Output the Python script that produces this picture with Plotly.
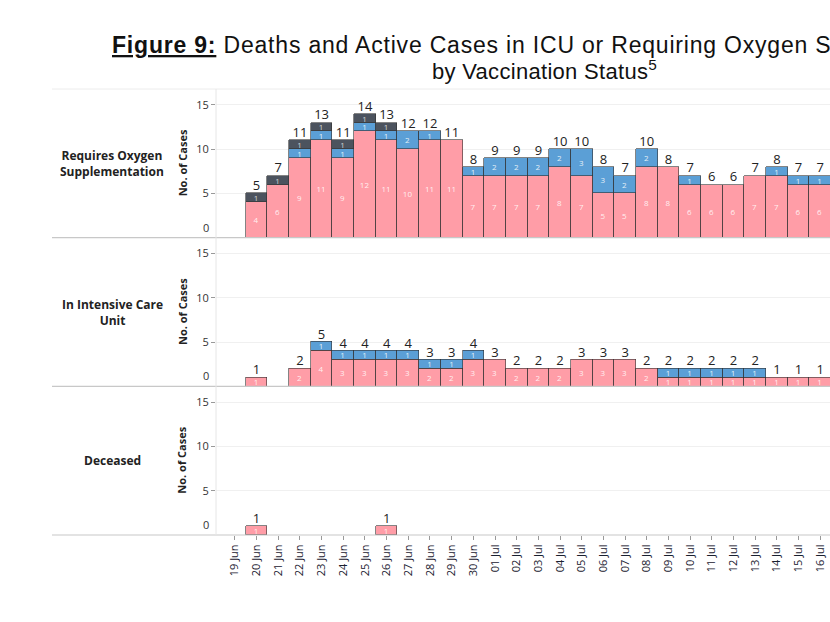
import plotly.graph_objects as go
from plotly.subplots import make_subplots

dates = ["19 Jun", "20 Jun", "21 Jun", "22 Jun", "23 Jun", "24 Jun", "25 Jun",
         "26 Jun", "27 Jun", "28 Jun", "29 Jun", "30 Jun", "01 Jul", "02 Jul",
         "03 Jul", "04 Jul", "05 Jul", "06 Jul", "07 Jul", "08 Jul", "09 Jul",
         "10 Jul", "11 Jul", "12 Jul", "13 Jul", "14 Jul", "15 Jul", "16 Jul"]

# Requires Oxygen Supplementation
oxy_pink = [0, 4, 6, 9, 11, 9, 12, 11, 10, 11, 11, 7, 7, 7, 7, 8, 7, 5, 5, 8, 8, 6, 6, 6, 7, 7, 6, 6]
oxy_blue = [0, 0, 0, 1, 1, 1, 1, 1, 2, 1, 0, 1, 2, 2, 2, 2, 3, 3, 2, 2, 0, 1, 0, 0, 0, 1, 1, 1]
oxy_dark = [0, 1, 1, 1, 1, 1, 1, 1, 0, 0, 0, 0, 0, 0, 0, 0, 0, 0, 0, 0, 0, 0, 0, 0, 0, 0, 0, 0]

# In Intensive Care Unit
icu_pink = [0, 1, 0, 2, 4, 3, 3, 3, 3, 2, 2, 3, 3, 2, 2, 2, 3, 3, 3, 2, 1, 1, 1, 1, 1, 1, 1, 1]
icu_blue = [0, 0, 0, 0, 1, 1, 1, 1, 1, 1, 1, 1, 0, 0, 0, 0, 0, 0, 0, 0, 1, 1, 1, 1, 1, 0, 0, 0]
icu_dark = [0] * 28

# Deceased
dec_pink = [0, 1, 0, 0, 0, 0, 0, 1, 0, 0, 0, 0, 0, 0, 0, 0, 0, 0, 0, 0, 0, 0, 0, 0, 0, 0, 0, 0]
dec_blue = [0] * 28
dec_dark = [0] * 28

row_labels = ["Requires Oxygen<br>Supplementation", "In Intensive Care<br>Unit", "Deceased"]
series_names = ["Unvaccinated", "Fully Vaccinated", "Partially Vaccinated"]
y_ticks = [5, 10, 15]

PINK = "#FF9DA7"
BLUE = "#5B9FD6"
DARK = "#4C535E"
BORDER = "rgba(50,50,50,0.75)"
FONT = "Open Sans"

panels = [
    (oxy_pink, oxy_blue, oxy_dark),
    (icu_pink, icu_blue, icu_dark),
    (dec_pink, dec_blue, dec_dark),
]

fig = make_subplots(rows=3, cols=1, shared_xaxes=True, vertical_spacing=0)

for r, (pk, bl, dk) in enumerate(panels, start=1):
    for vals, col, name, tcol in [
        (pk, PINK, series_names[0], "rgba(255,255,255,0.85)"),
        (bl, BLUE, series_names[1], "rgba(255,255,255,0.85)"),
        (dk, DARK, series_names[2], "rgba(225,225,225,0.9)"),
    ]:
        if sum(vals) == 0:
            continue
        fig.add_trace(go.Bar(
            x=dates,
            y=[v if v > 0 else None for v in vals],
            name=name,
            marker=dict(color=col, line=dict(color=BORDER, width=0.8)),
            text=[str(v) if v > 0 else "" for v in vals],
            textposition="inside",
            insidetextanchor="middle",
            textangle=0,
            constraintext="none",
            textfont=dict(size=8, color=tcol, family=FONT),
            showlegend=False,
            hoverinfo="skip",
        ), row=r, col=1)
    totals = [a + b + c for a, b, c in zip(pk, bl, dk)]
    fig.add_trace(go.Scatter(
        x=[d for d, t in zip(dates, totals) if t > 0],
        y=[t for t in totals if t > 0],
        text=[str(t) for t in totals if t > 0],
        mode="text",
        textposition="top center",
        textfont=dict(size=13, color="#222222", family=FONT),
        showlegend=False,
        hoverinfo="skip",
        cliponaxis=False,
    ), row=r, col=1)

fig.update_layout(
    width=830, height=622,
    margin=dict(l=216, r=0, t=89, b=87),
    barmode="stack", bargap=0,
    plot_bgcolor="white", paper_bgcolor="white",
    font=dict(family=FONT, color="#333333"),
)

for r in range(1, 4):
    fig.update_yaxes(
        range=[0, 16.8], tickvals=y_ticks, ticks="outside", ticklen=4,
        tickcolor="#999999", tickfont=dict(size=11, color="#333333", family=FONT),
        showgrid=True, gridcolor="#f0f0f0", zeroline=False, showline=False,
        row=r, col=1)
    fig.update_xaxes(
        type="category", range=[-0.87, 27.45], showgrid=False, zeroline=False,
        showline=False, row=r, col=1)

fig.update_xaxes(showticklabels=False, ticks="", row=1, col=1)
fig.update_xaxes(showticklabels=False, ticks="", row=2, col=1)
fig.update_xaxes(tickangle=-90, ticks="outside", ticklen=4, tickcolor="#999999",
                 tickfont=dict(size=11, color="#1a2030", family=FONT), row=3, col=1)

shapes = []
left = (52 - 216) / 614
shapes.append(dict(type="line", xref="paper", yref="paper", x0=left, x1=1.0, y0=1, y1=1,
                   line=dict(color="#ececec", width=1)))
for yy in [2 / 3, 1 / 3, 0]:
    shapes.append(dict(type="line", xref="paper", yref="paper", x0=left, x1=1.0, y0=yy, y1=yy,
                       line=dict(color="#c8c8c8", width=1.2)))
shapes.append(dict(type="line", xref="paper", yref="paper", x0=0, x1=0, y0=0, y1=1,
                   line=dict(color="#e6e6e6", width=1)))
fig.update_layout(shapes=shapes)

annotations = []
yrefs = ["y domain", "y2 domain", "y3 domain"]
yaxes = ["y", "y2", "y3"]
for i in range(3):
    annotations.append(dict(
        text="<b>" + row_labels[i] + "</b>", xref="paper", yref=yrefs[i],
        x=(112 - 216) / 614, y=0.5, xanchor="center", yanchor="middle",
        showarrow=False, font=dict(size=12, color="#222222", family=FONT)))
    annotations.append(dict(
        text="<b>No. of Cases</b>", xref="paper", yref=yrefs[i],
        x=(182 - 216) / 614, y=0.5, xanchor="center", yanchor="middle",
        textangle=-90, showarrow=False, font=dict(size=11, color="#222222", family=FONT)))
    annotations.append(dict(
        text="0", xref="paper", yref=yaxes[i], x=0, y=0, xanchor="right", yanchor="bottom",
        xshift=-5, yshift=1, showarrow=False,
        font=dict(size=11, color="#333333", family=FONT)))


def px_x(p):
    return (p - 216) / 614


def px_y(p):
    return (535 - p) / 446


annotations.append(dict(
    text='<span style="letter-spacing:0.8px"><b><span style="text-decoration:underline">Figure 9:</span></b> Deaths and Active Cases in ICU or Requiring Oxygen Supplementation</span>',
    xref="paper", yref="paper", x=px_x(110), y=px_y(45),
    xanchor="left", yanchor="middle", showarrow=False,
    font=dict(size=23, color="#111111", family="Liberation Sans")))
annotations.append(dict(
    text='<span style="letter-spacing:0.3px">by Vaccination Status<sup>5</sup></span>',
    xref="paper", yref="paper", x=px_x(544), y=px_y(70),
    xanchor="center", yanchor="middle", showarrow=False,
    font=dict(size=22, color="#111111", family="Liberation Sans")))
fig.update_layout(annotations=annotations)

fig.write_html("out.html", config={"displayModeBar": False},
               post_script="document.body.style.margin='0px';")
